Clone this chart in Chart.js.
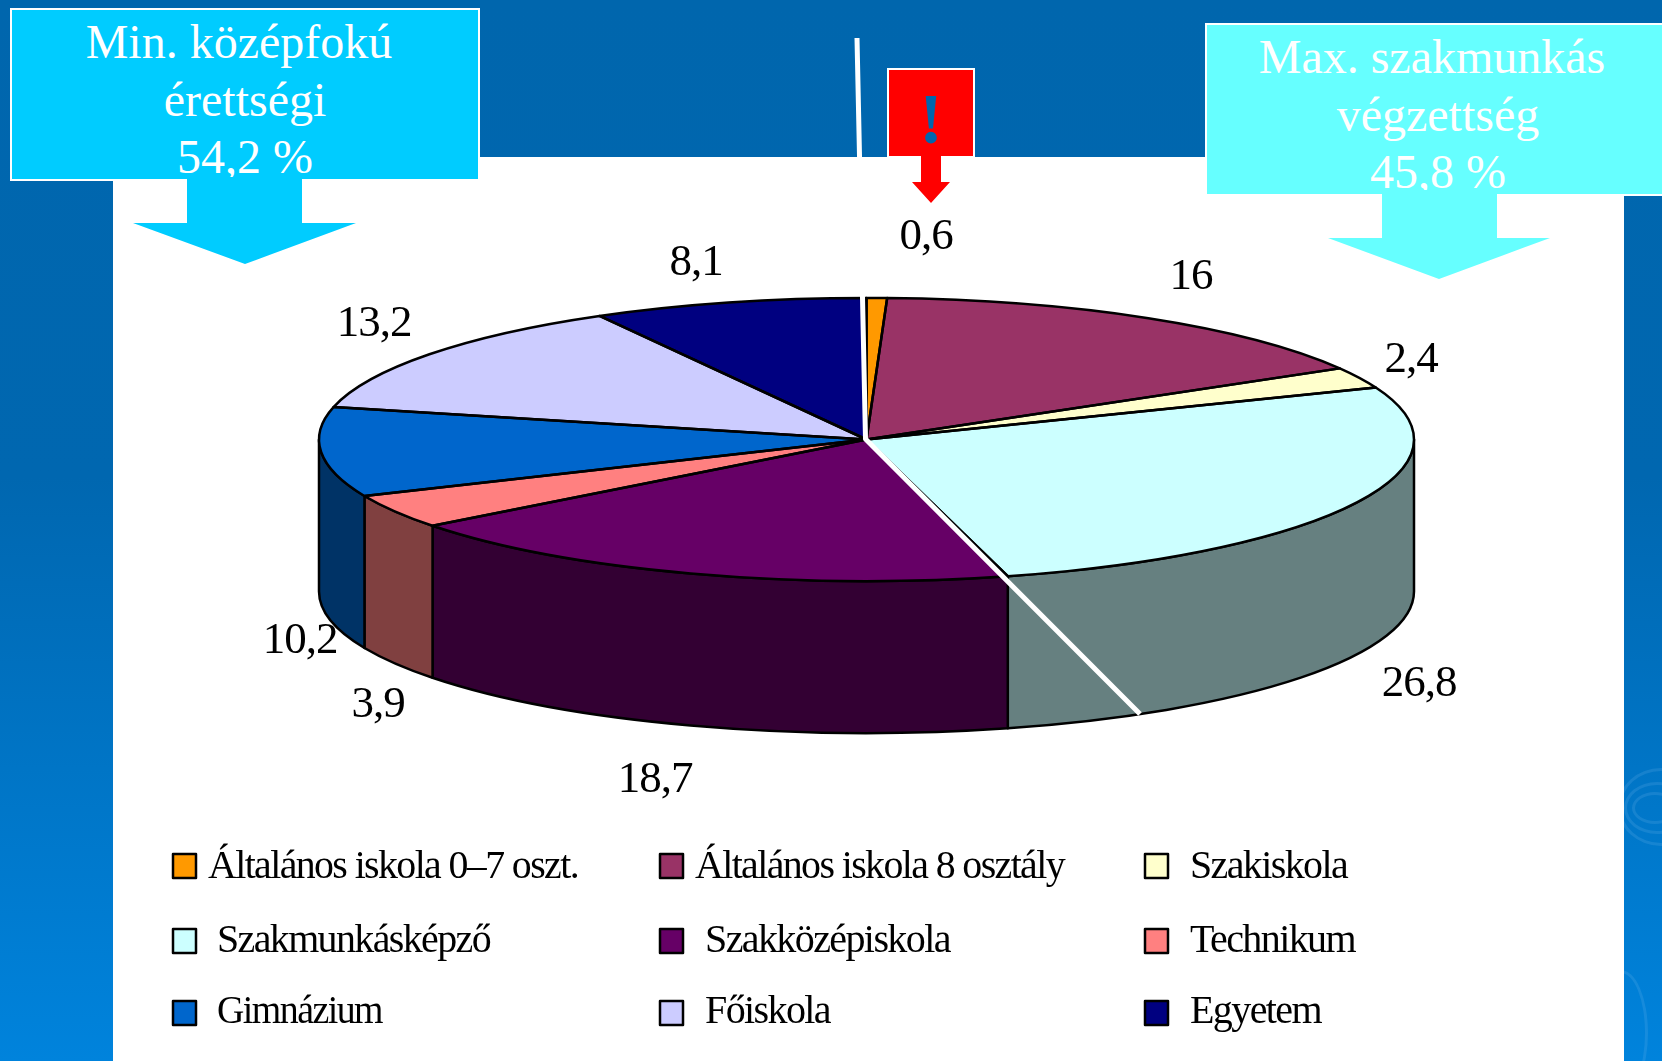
<!DOCTYPE html>
<html lang="hu">
<head>
    <meta charset="UTF-8">
    <title>Iskolai végzettség</title>
    <script src="https://cdn.jsdelivr.net/npm/chart.js"></script>
    <style>
        html, body { margin: 0; padding: 0; }
        body {
            position: relative;
            width: 1662px;
            height: 1061px;
            overflow: hidden;
            background: linear-gradient(to bottom, #0066ad 0%, #0067b0 45%, #0083dc 100%);
            font-family: "Liberation Serif", serif;
        }
        #panel { position: absolute; left: 113px; top: 157px; width: 1511px; height: 904px; background: #fff; }
        .box {
            position: absolute;
            box-sizing: border-box;
            border: 2px solid #fff;
            color: #fff;
            font-size: 48px;
            line-height: 57.5px;
            text-align: center;
        }
        .first { position: relative; left: -6px; }
        #boxLeft { left: 10px; top: 8px; width: 470px; height: 173px; background: #00ccff; padding-top: 3px; }
        #boxRight { left: 1205px; top: 23px; width: 470px; height: 173px; background: #66ffff; padding-top: 3px; }
        #boxRight span.wrap { display: block; width: 462px; }
        #boxRed {
            left: 887px; top: 68px; width: 88px; height: 90px; background: #ff0000;
            color: #0066ad; font-weight: bold; font-size: 72px; line-height: 72px; padding-top: 13px;
        }
        .arrow { position: absolute; }
        #arrowLeft { left: 133px; top: 177px; width: 223px; height: 87px; background: #00ccff;
            clip-path: polygon(54px 0, 169px 0, 169px 46px, 223px 46px, 112px 87px, 0 46px, 54px 46px); }
        #arrowRight { left: 1328px; top: 190px; width: 222px; height: 89px; background: #66ffff;
            clip-path: polygon(54px 0, 169px 0, 169px 48px, 222px 48px, 111px 89px, 0 48px, 54px 48px); }
        #arrowRed { left: 912px; top: 156px; width: 38px; height: 47px; background: #ff0000;
            clip-path: polygon(9px 0, 29px 0, 29px 26px, 38px 26px, 19px 47px, 0 26px, 9px 26px); }
        #ripple { position: absolute; left: 1624px; top: 740px; width: 38px; height: 321px; overflow: hidden; }
        #ripple div { position: absolute; border-radius: 50%; border: 3px solid rgba(120, 190, 240, 0.18); }
        canvas { position: absolute; left: 0; top: 0; }
    </style>
</head>
<body>
    <div id="ripple">
        <div style="left:8px;top:52px;width:40px;height:26px"></div>
        <div style="left:0;top:42px;width:60px;height:46px"></div>
        <div style="left:-6px;top:28px;width:80px;height:72px"></div>
        <div style="left:-30px;top:230px;width:48px;height:120px"></div>
    </div>
    <div id="panel"></div>
    <div class="box" id="boxLeft"><span class="first">Min. középfokú</span><br>érettségi<br>54,2 %</div>
    <div class="box" id="boxRight"><span class="wrap"><span class="first">Max. szakmunkás</span><br>végzettség<br>45,8 %</span></div>
    <div class="box" id="boxRed">!</div>
    <div class="arrow" id="arrowLeft"></div>
    <div class="arrow" id="arrowRight"></div>
    <div class="arrow" id="arrowRed"></div>
    <canvas id="pieChart" width="1662" height="1061"></canvas>

    <script>
    const categories = [
        'Általános iskola 0–7 oszt.', 'Általános iskola 8 osztály', 'Szakiskola',
        'Szakmunkásképző', 'Szakközépiskola', 'Technikum',
        'Gimnázium', 'Főiskola', 'Egyetem'
    ];
    const values = [0.6, 16, 2.4, 26.8, 18.7, 3.9, 10.2, 13.2, 8.1];
    const topColors = ['#ff9900', '#993366', '#ffffcc', '#ccffff', '#660066', '#ff8080', '#0066cc', '#ccccff', '#000080'];
    const sideColors = ['#804d00', '#4d1a33', '#808066', '#668080', '#330033', '#804040', '#003366', '#666680', '#000040'];

    // where the value labels sit (center x, baseline y)
    const labelX = [926, 1191, 1411, 1419, 655, 378, 300, 374, 696];
    const labelY = [249, 289, 372, 696, 792, 717, 653, 336, 275];

    // legend layout, same order as categories
    const legendBoxX = [173, 660, 1145, 173, 660, 1145, 173, 660, 1145];
    const legendBoxY = [854, 854, 854, 929, 929, 929, 1001, 1001, 1001];
    const legendTextX = [208, 695, 1190, 217, 705, 1190, 217, 705, 1190];
    const legendTextW = [370, 369, 157, 273, 246, 165, 165, 126, 132];
    const legendBaseline = [878, 878, 878, 952, 952, 952, 1023, 1023, 1023];

    // the flattened pie on the page
    const pie = { cx: 866.5, cy: 439.5, rx: 547.5, ry: 141.5, depth: 152 };

    const pie3d = {
        id: 'pie3d',
        beforeDatasetsDraw(chart) {
            const ctx = chart.ctx;
            const arcs = chart.getDatasetMeta(0).data;

            // side wall, only the front half of the pie can be seen
            ctx.save();
            ctx.lineWidth = 2.5;
            ctx.lineJoin = 'round';
            ctx.strokeStyle = '#000';
            arcs.forEach((arc, i) => {
                const a = Math.max(arc.startAngle, 0);
                const b = Math.min(arc.endAngle, Math.PI);
                if (a >= b) return;
                ctx.beginPath();
                ctx.ellipse(pie.cx, pie.cy, pie.rx, pie.ry, 0, a, b);
                ctx.ellipse(pie.cx, pie.cy + pie.depth, pie.rx, pie.ry, 0, b, a, true);
                ctx.closePath();
                ctx.fillStyle = sideColors[i];
                ctx.fill();
                ctx.stroke();
            });
            ctx.restore();

            // the library draws the top face through this squash
            const first = arcs[0];
            const r = first.outerRadius;
            ctx.save();
            ctx.translate(pie.cx, pie.cy);
            ctx.scale(pie.rx / r, pie.ry / r);
            ctx.translate(-first.x, -first.y);
        },
        afterDatasetsDraw(chart) {
            const ctx = chart.ctx;
            ctx.restore();
            const arcs = chart.getDatasetMeta(0).data;

            ctx.save();
            ctx.lineWidth = 2.5;
            ctx.lineJoin = 'round';
            ctx.strokeStyle = '#000';
            arcs.forEach(arc => {
                ctx.beginPath();
                ctx.moveTo(pie.cx, pie.cy);
                ctx.ellipse(pie.cx, pie.cy, pie.rx, pie.ry, 0, arc.startAngle, arc.endAngle);
                ctx.closePath();
                ctx.stroke();
            });

            // white divider between the two groups
            ctx.strokeStyle = '#fff';
            ctx.lineWidth = 5;
            ctx.lineCap = 'butt';
            ctx.beginPath();
            ctx.moveTo(857, 38);
            ctx.lineTo(865.5, 439);
            ctx.lineTo(1140, 714);
            ctx.stroke();

            // value labels
            ctx.fillStyle = '#000';
            ctx.font = '45px "Liberation Serif"';
            ctx.textAlign = 'center';
            ctx.textBaseline = 'alphabetic';
            ctx.letterSpacing = '-1px';
            values.forEach((v, i) => {
                ctx.fillText(String(v).replace('.', ','), labelX[i], labelY[i]);
            });

            // legend
            ctx.font = '40px "Liberation Serif"';
            ctx.textAlign = 'left';
            ctx.letterSpacing = '-1.6px';
            categories.forEach((name, i) => {
                ctx.fillStyle = topColors[i];
                ctx.strokeStyle = '#000';
                ctx.lineWidth = 2.5;
                ctx.fillRect(legendBoxX[i], legendBoxY[i], 23, 24);
                ctx.strokeRect(legendBoxX[i], legendBoxY[i], 23, 24);
                ctx.fillStyle = '#000';
                ctx.fillText(name, legendTextX[i], legendBaseline[i], legendTextW[i]);
            });
            ctx.restore();
        }
    };

    new Chart(document.getElementById('pieChart').getContext('2d'), {
        type: 'pie',
        data: {
            labels: categories,
            datasets: [{
                data: values,
                backgroundColor: topColors,
                borderWidth: 0
            }]
        },
        options: {
            responsive: false,
            animation: false,
            events: [],
            plugins: {
                legend: { display: false },
                tooltip: { enabled: false }
            }
        },
        plugins: [pie3d]
    });
    </script>
</body>
</html>
